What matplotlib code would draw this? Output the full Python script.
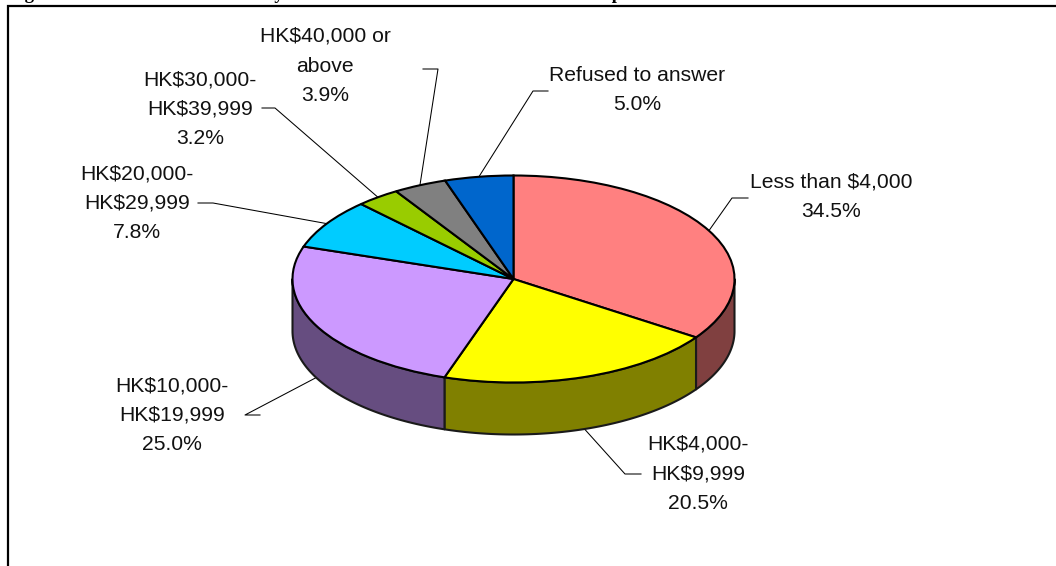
import numpy as np
import matplotlib
matplotlib.use("Agg")
import matplotlib.pyplot as plt

# Data
categories = ["Less than $4,000", "HK$4,000-\nHK$9,999", "HK$10,000-\nHK$19,999",
              "HK$20,000-\nHK$29,999", "HK$30,000-\nHK$39,999", "HK$40,000 or\nabove",
              "Refused to answer"]
values = [34.5, 20.5, 25.0, 7.8, 3.2, 3.9, 5.0]
colors = ["#FF8080", "#FFFF00", "#CC99FF", "#00CCFF", "#99CC00", "#808080", "#0066CC"]
side_colors = ["#804040", "#808000", "#664D80", "#006680", "#4D6600", "#404040", "#003366"]
# Only the descenders of the title are visible in the reference; its wording is a stand-in.
title = "Figure 4.3 Distribution of monthly income of the interviewed local adult respondents"

# Layout in reference pixels
W, H = 1056, 566
CX, CY, RX, RY, DEPTH = 513.5, 279.0, 221.0, 103.5, 52.0
label_pos = [(831, 197), (698, 474), (172, 415), (137, 203), (200, 109), (325, 66), (637, 90)]
elbows = [[(748, 198), (732, 198)], [(641, 474), (625, 474)], [(260, 415), (245, 415)],
          [(198, 203), (213, 203)], [(262, 108), (275, 108)], [(423, 69), (438, 69)],
          [(548, 91), (533, 91)]]


def px(x, y):
    return (x - CX) / RX, (CY - y) / RY


plt.rcParams["font.family"] = ["Liberation Sans", "DejaVu Sans"]
fig = plt.figure(figsize=(W / 100, H / 100), dpi=100, facecolor="white")
ax = fig.add_axes([0, 0, 1, 1])

fractions = np.array(values) / sum(values)
edges = np.concatenate([[0], np.cumsum(fractions)]) * 2 * np.pi
d = DEPTH / RY

# Side wall of the front half of the disc
for i in range(len(values)):
    a0, a1 = max(edges[i], np.pi / 2), min(edges[i + 1], 3 * np.pi / 2)
    if a1 <= a0:
        continue
    t = np.linspace(a0, a1, 150)
    xs = np.concatenate([np.sin(t), np.sin(t[::-1])])
    ys = np.concatenate([np.cos(t), np.cos(t[::-1]) - d])
    ax.fill(xs, ys, facecolor=side_colors[i], edgecolor="#1a1a1a", linewidth=1.5,
            joinstyle="round", zorder=1)

# Top of the disc
ax.pie(values, colors=colors, startangle=90, counterclock=False, radius=1,
       wedgeprops=dict(edgecolor="black", linewidth=1.5, zorder=2))
for w in ax.patches:
    w.set_zorder(2)
ax.set_aspect("auto")
ax.set_xlim(px(0, 0)[0], px(W, 0)[0])
ax.set_ylim(px(0, H)[1], px(0, 0)[1])
ax.axis("off")

# Leader lines and labels
for i, (cat, v) in enumerate(zip(categories, values)):
    mid = (edges[i] + edges[i + 1]) / 2
    ax_, ay_ = np.sin(mid), np.cos(mid)
    if np.cos(mid) < 0 and abs(np.sin(mid)) < 0.95:
        ay_ -= d
    pts = [px(*p) for p in elbows[i]] + [(ax_, ay_)]
    ax.plot([p[0] for p in pts], [p[1] for p in pts], color="black", lw=0.75, zorder=0.5)
    lx, ly = px(*label_pos[i])
    ax.text(lx, ly, f"{cat}\n{v:.1f}%", ha="center", va="center", multialignment="center",
            fontsize=15.2, linespacing=1.7, color="#111111", zorder=4)

# Frame
ax.plot(*zip(px(8, H), px(8, 5.7), px(W, 5.7)), color="black", lw=1.6,
        solid_joinstyle="miter", solid_capstyle="butt", zorder=5)

# Title, cut off by the top of the picture as in the reference
tx, ty = px(8, -1)
ax.text(tx, ty, title, ha="left", va="baseline", family="Liberation Serif",
        fontweight="bold", fontsize=13.5, color="black", clip_on=False)

fig.savefig("out.png", dpi=100)
